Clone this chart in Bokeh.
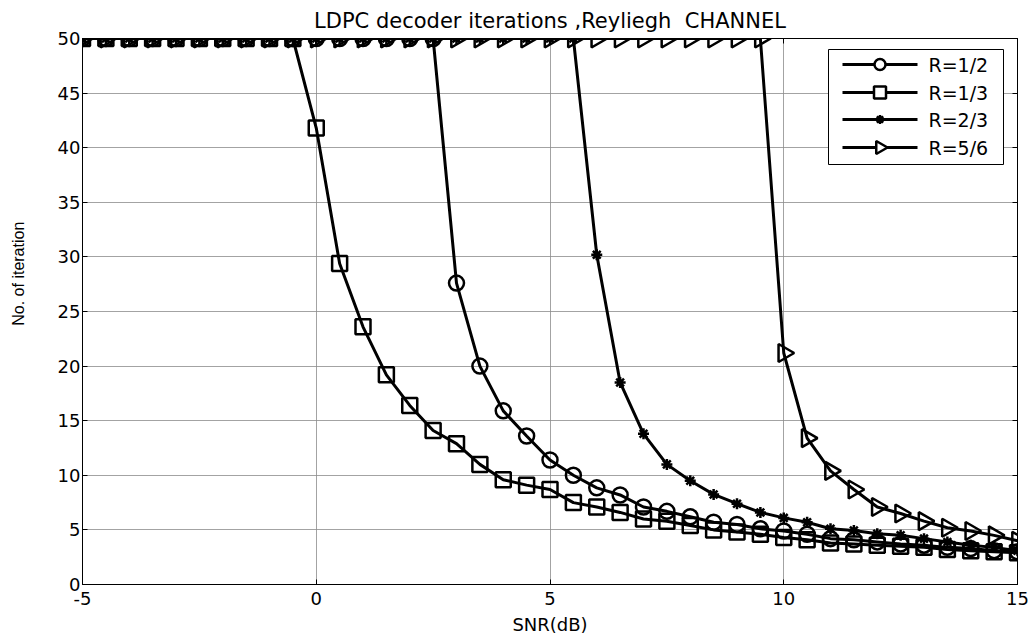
import math
from bokeh.plotting import figure
from bokeh.layouts import row
from bokeh.models import FixedTicker, LinearAxis, Range1d
from bokeh.core.properties import value
from bokeh.embed import file_html
from bokeh.resources import INLINE

snr = [-5, -4.5, -4, -3.5, -3, -2.5, -2, -1.5, -1, -0.5,
       0, 0.5, 1, 1.5, 2, 2.5, 3, 3.5, 4, 4.5,
       5, 5.5, 6, 6.5, 7, 7.5, 8, 8.5, 9, 9.5,
       10, 10.5, 11, 11.5, 12, 12.5, 13, 13.5, 14, 14.5, 15]

r12 = [50, 50, 50, 50, 50, 50, 50, 50, 50, 50,
       50, 50, 50, 50, 50, 50, 27.6, 20.0, 15.9, 13.6,
       11.4, 10.0, 8.85, 8.2, 7.1, 6.7, 6.2, 5.7, 5.5, 5.1,
       4.9, 4.6, 4.2, 4.1, 3.9, 3.7, 3.6, 3.4, 3.3, 3.1, 3.0]

r13 = [50, 50, 50, 50, 50, 50, 50, 50, 50, 50,
       41.8, 29.4, 23.6, 19.2, 16.4, 14.1, 12.9, 11.0, 9.6, 9.1,
       8.7, 7.5, 7.1, 6.6, 6.0, 5.8, 5.4, 5.0, 4.8, 4.6,
       4.3, 4.1, 3.8, 3.7, 3.6, 3.5, 3.4, 3.2, 3.1, 3.0, 2.9]

r23 = [50, 50, 50, 50, 50, 50, 50, 50, 50, 50,
       50, 50, 50, 50, 50, 50, 50, 50, 50, 50,
       50, 50, 30.2, 18.5, 13.8, 11.0, 9.5, 8.25, 7.4, 6.6,
       6.1, 5.7, 5.1, 4.95, 4.65, 4.5, 4.2, 3.9, 3.6, 3.4, 3.1]

r56 = [50, 50, 50, 50, 50, 50, 50, 50, 50, 50,
       50, 50, 50, 50, 50, 50, 50, 50, 50, 50,
       50, 50, 50, 50, 50, 50, 50, 50, 50, 50,
       21.2, 13.4, 10.4, 8.7, 7.1, 6.5, 5.8, 5.2, 4.9, 4.5, 4.0]

labels = ["R=1/2", "R=1/3", "R=2/3", "R=5/6"]
x_ticks = [-5, 0, 5, 10, 15]
x_tick_labels = ["-5", "0", "5", "10", "15"]
y_ticks = [0, 5, 10, 15, 20, 25, 30, 35, 40, 45, 50]

FONT = "DejaVu Sans"
W, H = 1032, 643
LAB_W = 40               # narrow strip holding the y-axis title
FW, FH = 935, 546        # plot frame size in pixels

# ---- strip with the rotated y-axis title ----
lab = figure(width=LAB_W, height=H, output_backend="svg", toolbar_location=None,
             x_range=Range1d(0, LAB_W), y_range=Range1d(0, H), min_border=0)
lab.axis.visible = False
lab.grid.visible = False
lab.outline_line_color = None
lab.background_fill_color = "white"
lab.border_fill_color = "white"
lab.text(x=[18], y=[H - 277], text=["No. of iteration"], angle=math.pi / 2,
         text_align="center", text_baseline="middle",
         text_font=value("Liberation Sans"), text_font_size="16px", text_color="black")

# ---- main plot ----
p = figure(width=W - LAB_W, height=H, output_backend="svg", toolbar_location=None,
           x_range=Range1d(-5, 15), y_range=Range1d(0, 50),
           min_border_left=82 - LAB_W, min_border_right=15, min_border_top=38,
           min_border_bottom=59,
           title="LDPC decoder iterations ,Reyliegh \u00a0CHANNEL")
p.extra_x_ranges = {"px": Range1d(0, FW)}
p.extra_y_ranges = {"py": Range1d(0, FH)}
p.background_fill_color = "white"
p.border_fill_color = "white"
p.outline_line_color = "black"
p.outline_line_width = 1

p.title.align = "center"
p.title.text_font = FONT
p.title.text_font_size = "21px"
p.title.text_font_style = "normal"
p.title.text_color = "black"
p.title.offset = 0
p.title.standoff = 12

for ax in (p.xaxis[0], p.yaxis[0]):
    ax.major_label_text_font = FONT
    ax.major_label_text_font_size = "18px"
    ax.major_label_text_color = "black"
    ax.axis_label_text_font = FONT
    ax.axis_label_text_font_size = "18px"
    ax.axis_label_text_font_style = "normal"
    ax.axis_label_text_color = "black"
    ax.axis_line_color = "black"
    ax.major_tick_in = 5
    ax.major_tick_out = 0
    ax.minor_tick_line_color = None
    ax.major_tick_line_color = "black"

p.xaxis.ticker = FixedTicker(ticks=x_ticks)
p.xaxis.major_label_overrides = dict(zip(x_ticks, x_tick_labels))
p.yaxis.ticker = FixedTicker(ticks=y_ticks)
p.xaxis.axis_label = "SNR(dB)"
p.xaxis.major_label_standoff = 7
p.xaxis.axis_label_standoff = 6
p.yaxis.major_label_standoff = 2

top_ax = LinearAxis(ticker=FixedTicker(ticks=x_ticks), major_label_text_font_size="1px",
                    major_label_text_color=None,
                    major_tick_in=5, major_tick_out=0, minor_tick_line_color=None,
                    axis_line_color="black")
right_ax = LinearAxis(ticker=FixedTicker(ticks=y_ticks), major_label_text_font_size="1px",
                      major_label_text_color=None,
                      major_tick_in=5, major_tick_out=0, minor_tick_line_color=None,
                      axis_line_color="black")
p.add_layout(top_ax, "above")
p.add_layout(right_ax, "right")

for g in (p.xgrid[0], p.ygrid[0]):
    g.grid_line_color = "#8c8c8c"
    g.grid_line_width = 1
    g.grid_line_alpha = 0.8
p.xgrid.ticker = FixedTicker(ticks=x_ticks)
p.ygrid.ticker = FixedTicker(ticks=y_ticks)

LW = 3
MLW = 2.5
series = [
    (r12, "circle", 15, 0, 11),
    (r13, "square", 15, 0, 12),
    (r23, "asterisk", 11, 0, 9),
    (r56, "triangle", 18, -math.pi / 2, 13),
]
for ys, mk, sz, ang, _ in series:
    p.line(snr, ys, line_color="black", line_width=LW)
    p.scatter(snr, ys, marker=mk, size=sz, angle=ang, line_color="black",
              line_width=MLW, fill_color=None)

# legend box drawn in pixel coordinates of the frame
lg_left, lg_right, lg_bottom, lg_top = 746, 921, 420, 535
rows = [520, 492, 465, 437]
ln_x0, ln_x1, txt_x = 760, 835, 846
p.quad(left=[lg_left], right=[lg_right], bottom=[lg_bottom], top=[lg_top],
       x_range_name="px", y_range_name="py", fill_color="white",
       line_color="black", line_width=1)
p.segment(x0=[ln_x0] * 4, y0=rows, x1=[ln_x1] * 4, y1=rows,
          x_range_name="px", y_range_name="py", line_color="black", line_width=LW)
for (ys, mk, sz, ang, lsz), ry in zip(series, rows):
    p.scatter([(ln_x0 + ln_x1) / 2], [ry], marker=mk, size=lsz, angle=ang,
              x_range_name="px", y_range_name="py", line_color="black",
              line_width=MLW, fill_color="white")
p.text(x=[txt_x] * 4, y=rows, text=labels, x_range_name="px", y_range_name="py",
       text_font=value(FONT), text_font_size="19px", text_baseline="middle",
       text_align="left", text_color="black")

layout = row(lab, p, spacing=0)
open("out.html", "w").write(file_html(layout, INLINE))
